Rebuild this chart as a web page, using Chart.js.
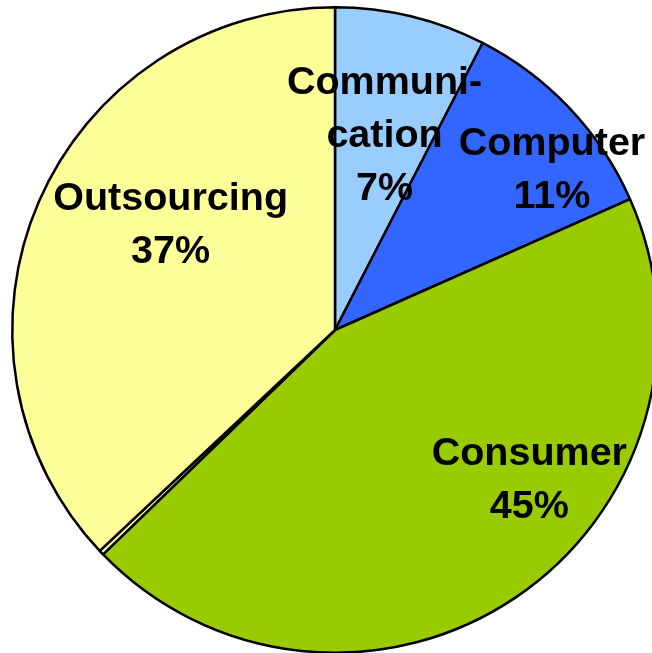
<!DOCTYPE html>
<html>
<head>
<meta charset="utf-8">
<script src="https://cdn.jsdelivr.net/npm/chart.js@4/dist/chart.umd.min.js"></script>
<style>
  html, body { margin: 0; padding: 0; background: #ffffff; overflow: hidden; }
  #wrap { width: 670px; height: 660px; }
</style>
</head>
<body>
<div id="wrap"><canvas id="myChart" width="670" height="660"></canvas></div>
<script>
// slices, clockwise from 12 o'clock
const categories = ["Communi-\ncation", "Computer", "Consumer", "", "Outsourcing"];
const shares = [7.56, 10.8, 44.4, 0.24, 37.0];
const shareLabels = ["7%", "11%", "45%", "", "37%"];
const sliceColors = ["#99CCFF", "#3366FF", "#99CC00", "#FFFF99", "#FFFF99"];

// where each label sits: angle shift from slice middle (deg), fraction of radius
const labelPlacement = [
  { shift: 0.5, frac: 0.63 },
  { shift: 6.5, frac: 0.84 },
  { shift: -18.8, frac: 0.756 },
  null,
  { shift: 9.7, frac: 0.608 }
];

const sliceLabels = {
  id: "sliceLabels",
  afterDatasetsDraw(chart) {
    const ctx = chart.ctx;
    const meta = chart.getDatasetMeta(0);
    const size = 39.5;
    const lineH = 53;
    ctx.save();
    ctx.font = "bold " + size + "px 'Liberation Sans', Arial, sans-serif";
    ctx.fillStyle = "#000000";
    ctx.textAlign = "center";
    ctx.textBaseline = "alphabetic";
    meta.data.forEach((arc, i) => {
      const place = labelPlacement[i];
      if (!place) return;
      const p = arc.getProps(["x", "y", "startAngle", "endAngle", "outerRadius"], true);
      const mid = (p.startAngle + p.endAngle) / 2 + place.shift * Math.PI / 180;
      const cx = p.x + Math.cos(mid) * p.outerRadius * place.frac;
      const cy = p.y + Math.sin(mid) * p.outerRadius * place.frac;
      const lines = categories[i].split("\n").concat([shareLabels[i]]);
      const top = cy - (lines.length - 1) * lineH / 2;
      lines.forEach((t, k) => {
        ctx.fillText(t, cx, top + k * lineH + size * 0.358);
      });
    });
    ctx.restore();
  }
};

const data = {
  labels: categories,
  datasets: [
    {
      data: shares,
      backgroundColor: sliceColors,
      borderColor: "#000000",
      borderWidth: 2.5
    }
  ]
};

const config = {
  type: "pie",
  data: data,
  options: {
    responsive: false,
    animation: false,
    layout: { padding: 6 },
    plugins: {
      legend: { display: false },
      tooltip: { enabled: false }
    }
  },
  plugins: [sliceLabels]
};

const myChart = new Chart(document.getElementById("myChart"), config);
</script>
</body>
</html>
